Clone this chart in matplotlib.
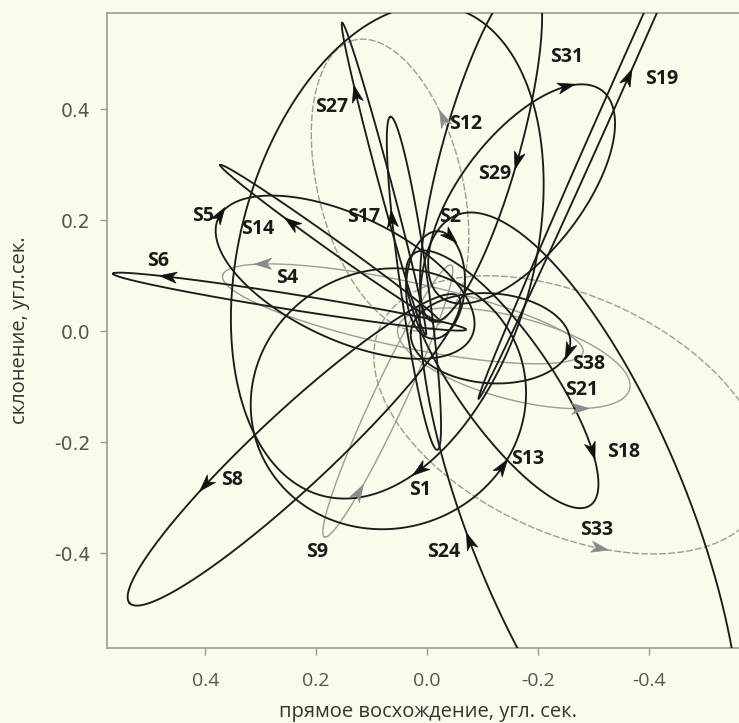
import numpy as np
import matplotlib.pyplot as plt
from matplotlib.patches import Polygon

# projected orbits of the S-stars (arcsec); ellipse centre, semi-axes and
# position angle of the major axis (degrees, east of north)
stars = ['S1', 'S2', 'S4', 'S5', 'S6', 'S8', 'S9', 'S12', 'S13', 'S14',
         'S17', 'S18', 'S19', 'S21', 'S24', 'S27', 'S29', 'S31', 'S33', 'S38']
center_ra = [0.072, -0.015, 0.044, 0.148, 0.248, 0.240, 0.071, 0.067, 0.070, 0.175,
             0.024, -0.135, -0.349, -0.156, -0.275, 0.078, -0.097, -0.170, -0.258, -0.114]
center_dec = [0.143, 0.083, 0.031, 0.097, 0.053, -0.214, -0.126, 0.263, -0.122, 0.158,
              0.086, -0.087, 0.454, -0.049, -0.343, 0.274, 0.329, 0.247, -0.151, -0.013]
semi_major = [0.455, 0.097, 0.332, 0.252, 0.322, 0.405, 0.270, 0.269, 0.250, 0.243,
              0.303, 0.277, 0.630, 0.216, 0.595, 0.291, 0.324, 0.236, 0.378, 0.144]
semi_minor = [0.265, 0.053, 0.059, 0.112, 0.014, 0.068, 0.029, 0.130, 0.233, 0.011,
              0.025, 0.085, 0.011, 0.074, 0.198, 0.011, 0.069, 0.108, 0.213, 0.081]
pos_angle = [345, 357, 78, 65, 81, 133, 155, 14, 110, 54.5,
             8, 35, 156, 75, 22, 15, 164.3, 142, 65, 86]
grey_orbit = ['S4', 'S9', 'S12', 'S21', 'S33']
dashed_orbit = ['S12', 'S33']

# present position (arrow) and sense of motion: +1 anticlockwise, -1 clockwise
arrow_ra = [0.018, -0.045, 0.296, 0.375, 0.467, 0.400, 0.117, -0.025, -0.126, 0.251,
            0.072, -0.303, -0.362, -0.276, -0.078, 0.126, -0.164, -0.245, -0.312, -0.252]
arrow_dec = [-0.245, 0.173, 0.130, 0.211, 0.097, -0.276, -0.294, 0.382, -0.238, 0.186,
             0.202, -0.214, 0.458, -0.137, -0.378, 0.429, 0.306, 0.463, -0.391, -0.036]
arrow_sense = [-1, -1, 1, -1, 1, 1, 1, 1, 1, -1,
               -1, -1, 1, 1, -1, -1, -1, -1, 1, -1]
label_ra = [0.013, -0.041, 0.252, 0.404, 0.485, 0.351, 0.198, -0.069, -0.180, 0.305,
            0.114, -0.353, -0.422, -0.279, -0.029, 0.173, -0.121, -0.251, -0.305, -0.290]
label_dec = [-0.287, 0.205, 0.096, 0.207, 0.126, -0.269, -0.398, 0.373, -0.231, 0.184,
             0.205, -0.218, 0.454, -0.106, -0.398, 0.404, 0.283, 0.494, -0.359, -0.060]

ticks = [0.4, 0.2, 0.0, -0.2, -0.4]
tick_text = ['0.4', '0.2', '0.0', '-0.2', '-0.4']

paper = '#fcfaea'
fig = plt.figure(figsize=(7.39, 7.23), dpi=100, facecolor=paper)
ax = fig.add_axes([107 / 739, 1 - 648 / 723, (750 - 107) / 739, (648 - 13) / 723])
ax.set_facecolor(paper)

t = np.linspace(0, 2 * np.pi, 1500)
for i, name in enumerate(stars):
    pa = np.radians(pos_angle[i])
    u = np.array([np.sin(pa), np.cos(pa)])
    v = np.array([np.cos(pa), -np.sin(pa)])
    a, b = semi_major[i], semi_minor[i]
    ra = center_ra[i] + a * np.cos(t) * u[0] + b * np.sin(t) * v[0]
    dec = center_dec[i] + a * np.cos(t) * u[1] + b * np.sin(t) * v[1]

    grey = name in grey_orbit
    col = '#9c9c9c' if grey else '#1c1c1c'
    ls = (0, (5, 1.5)) if name in dashed_orbit else '-'
    ax.plot(ra, dec, color=col, lw=1.0 if grey else 1.35, ls=ls, zorder=3 if grey else 4)

    # arrow head at the star's position, along the orbit
    k = np.argmin((ra - arrow_ra[i]) ** 2 + (dec - arrow_dec[i]) ** 2)
    d = (-a * np.sin(t[k]) * u + b * np.cos(t[k]) * v) * arrow_sense[i]
    d = d / np.hypot(d[0], d[1])
    n = np.array([-d[1], d[0]])
    p = np.array([ra[k], dec[k]])
    L, W = 0.031, 0.020
    head = [p + d * L / 2, p - d * L / 2 + n * W / 2, p - d * L * 0.22, p - d * L / 2 - n * W / 2]
    acol = '#8a8a8a' if grey else '#111111'
    ax.add_patch(Polygon(head, closed=True, facecolor=acol, edgecolor=acol, lw=0.5, zorder=6))

    ax.text(label_ra[i], label_dec[i], name, ha='center', va='center', fontsize=14,
            fontweight='bold', family=['Open Sans', 'DejaVu Sans'], color='#1a1a1a', zorder=7)

ax.set_xlim(0.577, 0.577 - (750 - 107) / 555)
ax.set_ylim(-0.571, 0.573)

ax.set_xticks(ticks)
ax.set_xticklabels(tick_text, family=['Open Sans', 'DejaVu Sans'], fontsize=14, color='#555555')
ax.set_yticks(ticks)
ax.set_yticklabels(tick_text, family='DejaVu Sans', fontsize=13.5, color='#555555')
ax.tick_params(axis='both', direction='out', length=5, width=1, color='#9a9a9a')
ax.tick_params(axis='x', pad=12)
ax.tick_params(axis='y', pad=7)
for side in ['left', 'bottom', 'top']:
    ax.spines[side].set_color('#9a9a9a')
    ax.spines[side].set_linewidth(1.2)
ax.spines['right'].set_visible(False)

ax.set_xlabel('прямое восхождение, угл. сек.', family=['Open Sans', 'DejaVu Sans'],
              fontsize=14.5, color='#333333', labelpad=9)
ax.set_ylabel('склонение, угл.сек.', family=['Open Sans', 'DejaVu Sans'],
              fontsize=14.5, color='#333333', labelpad=17)

fig.savefig('out.png', dpi=100, facecolor=paper)
